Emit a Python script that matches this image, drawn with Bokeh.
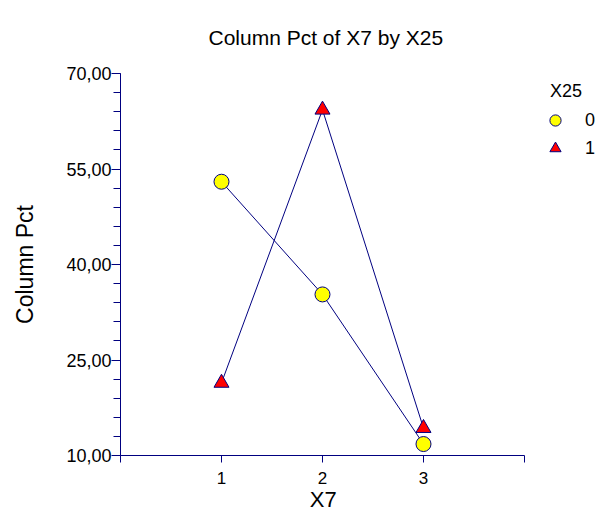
from bokeh.plotting import figure
from bokeh.models import (Range1d, FixedTicker, Legend, LegendItem, Title)
from bokeh.embed import file_html
from bokeh.resources import INLINE

# Column percentages of X7 within each X25 group
x7 = [1, 2, 3]
pct_x25_0 = [53.0, 35.3, 11.8]
pct_x25_1 = [21.4, 64.3, 14.3]

y_ticks = [10, 25, 40, 55, 70]
x_ticks = [0, 1, 2, 3, 4]
group_title = "X25"
group_labels = ["0", "1"]

NAVY = "#000080"
FONT = "Liberation Sans"
NBSP = "\u00a0"

# the frame runs on to the right edge so the legend can sit beside the axis
p = figure(width=605, height=514, output_backend="svg", toolbar_location=None,
           title=None, x_range=Range1d(0, 4.802), y_range=Range1d(10, 70),
           min_border_left=120, min_border_right=0,
           min_border_top=73, min_border_bottom=57)
p.outline_line_color = None
p.grid.visible = False
p.background_fill_color = "white"
p.border_fill_color = "white"

# blank band between the frame and the title
p.add_layout(Title(text=" ", text_font_size="10px", standoff=12), "above")
p.add_layout(Title(text="Column Pct of X7 by X25", align="left", offset=88,
                   text_font=FONT, text_font_size="21px",
                   text_font_style="normal", text_color="black",
                   standoff=0), "above")

# axes
xa = p.xaxis[0]
xa.ticker = FixedTicker(ticks=x_ticks)
xa.bounds = (0, 4)
xa.major_label_overrides = {0: "", 4: ""}
# trailing no-break spaces keep the label centred under the bounded axis
xa.axis_label = "X7" + NBSP * 13
ya = p.yaxis[0]
ya.ticker = FixedTicker(ticks=y_ticks, minor_ticks=list(range(10, 71, 3)))
ya.major_label_overrides = {t: f"{t},00" for t in y_ticks}
ya.axis_label = "Column Pct"

for ax in (xa, ya):
    ax.axis_line_color = NAVY
    ax.major_tick_line_color = NAVY
    ax.minor_tick_line_color = NAVY
    ax.major_tick_in = 0
    ax.minor_tick_in = 0
    ax.major_label_text_font = FONT
    ax.major_label_text_color = "black"
    ax.axis_label_text_font = FONT
    ax.axis_label_text_font_style = "normal"
    ax.axis_label_text_color = "black"

xa.major_tick_out = 7
xa.minor_tick_line_color = None
xa.major_label_standoff = 9
xa.major_label_text_font_size = "17px"
xa.axis_label_text_font_size = "22px"
xa.axis_label_standoff = 0

ya.major_tick_out = 9
ya.minor_tick_out = 7
ya.major_label_standoff = 0
ya.major_label_text_font_size = "18px"
ya.axis_label_text_font_size = "23px"
ya.axis_label_standoff = 25

# series lines and markers
p.line(x7, pct_x25_0, line_color=NAVY, line_width=1)
p.line(x7, pct_x25_1, line_color=NAVY, line_width=1)
r0 = p.scatter(x7, pct_x25_0, marker="circle", size=15,
               fill_color="yellow", line_color=NAVY, line_width=1)
r1 = p.scatter(x7, pct_x25_1, marker="triangle", size=15,
               fill_color="red", line_color=NAVY, line_width=1)

# group legend beside the x range
legend = Legend(items=[LegendItem(label=group_labels[0], renderers=[r0]),
                       LegendItem(label=group_labels[1], renderers=[r1])],
                title=NBSP * 3 + group_title, location=(415, 293),
                spacing=0, glyph_width=40, glyph_height=28,
                label_height=20, label_standoff=10, title_standoff=4,
                border_line_color=None, background_fill_alpha=0,
                padding=0, margin=0,
                label_text_font=FONT, label_text_font_size="18px",
                label_text_color="black",
                title_text_font=FONT, title_text_font_size="18px",
                title_text_font_style="normal", title_text_color="black")
p.add_layout(legend)

open("out.html", "w").write(file_html(p, INLINE))
